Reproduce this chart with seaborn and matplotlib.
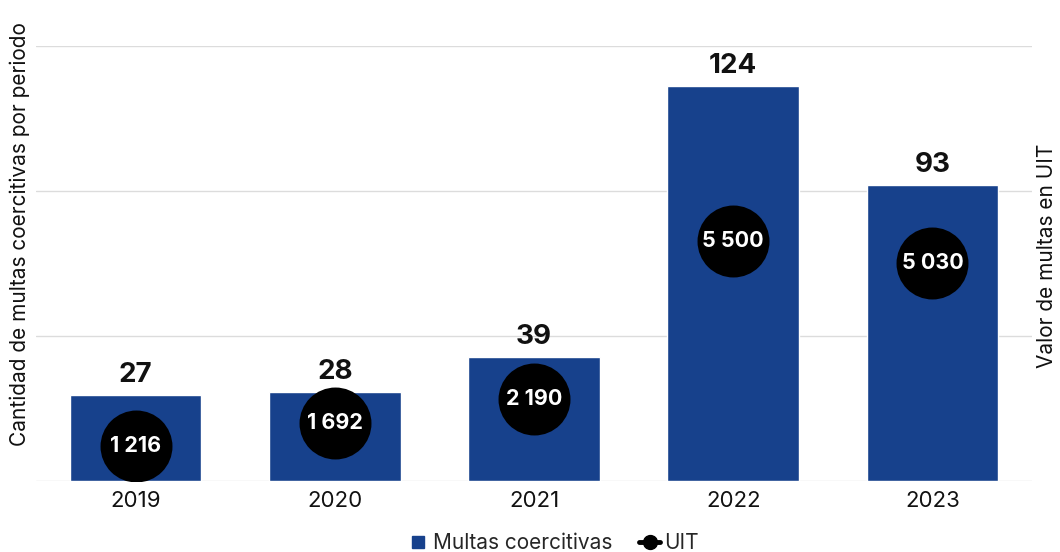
import numpy as np
import pandas as pd
import matplotlib
matplotlib.use("Agg")
import matplotlib.pyplot as plt
from matplotlib.lines import Line2D
import seaborn as sns

# Data
years = ["2019", "2020", "2021", "2022", "2023"]
multas = [27, 28, 39, 124, 93]
uit = [1216, 1692, 2190, 5500, 5030]
uit_labels = ["1 216", "1 692", "2 190", "5 500", "5 030"]

bar_color = "#17418c"

sns.set_theme(style="white")
plt.rcParams["font.family"] = ["Inter", "DejaVu Sans"]

df = pd.DataFrame({"year": years, "multas": multas, "uit": uit})

fig = plt.figure(figsize=(10.6, 5.52), dpi=100)
ax = fig.add_axes([0.034, 0.1286, 0.9396, 0.7881])

sns.barplot(data=df, x="year", y="multas", color=bar_color, width=0.66,
            saturation=1, ax=ax, zorder=2)
ax.set_xlim(-0.5, 4.5)
ax.set_ylim(0, 136.6)
ax.set_yticks([0, 45.53, 91.07, 136.6])
ax.set_yticklabels([])
ax.grid(axis="y", color="#dcdcdc", linewidth=1, zorder=0)
ax.set_axisbelow(True)
for s in ax.spines.values():
    s.set_visible(False)
ax.tick_params(axis="x", labelsize=16, length=0, pad=7, colors="#111111")
ax.tick_params(axis="y", length=0)
ax.set_xlabel("")
ax.set_ylabel("Cantidad de multas coercitivas por periodo", fontsize=15,
              color="#111111")
ax.yaxis.set_label_coords(-0.006, 0.568)

for c in ax.containers:
    ax.bar_label(c, fmt="%d", fontsize=20, fontweight="bold", padding=5,
                 color="#111111")

ax2 = ax.twinx()
sns.scatterplot(x=np.arange(len(years)), y=uit, s=51.8 ** 2,
                color="black", linewidth=0, ax=ax2, zorder=3,
                legend=False)
ax2.set_ylim(480, 9570)
ax2.set_yticks([])
for s in ax2.spines.values():
    s.set_visible(False)
ax2.set_ylabel("Valor de multas en UIT", fontsize=15, color="#111111")
ax2.yaxis.set_label_coords(1.005, 0.517)
for i, (v, lab) in enumerate(zip(uit, uit_labels)):
    ax2.text(i, v, lab, ha="center", va="center", color="white",
             fontsize=15.5, fontweight="bold", zorder=4)

handles = [
    Line2D([0], [0], marker="s", color="none", markerfacecolor=bar_color,
           markeredgecolor=bar_color, markersize=9),
    Line2D([0], [0], marker="o", color="black", linewidth=3.5,
           markersize=10),
]
fig.legend(handles, ["Multas coercitivas", "UIT"], loc="center",
           bbox_to_anchor=(0.522, 0.016), ncol=2, frameon=False,
           fontsize=15, handlelength=1.0, handletextpad=0.2,
           columnspacing=1.3)

fig.savefig("out.png", dpi=100)
